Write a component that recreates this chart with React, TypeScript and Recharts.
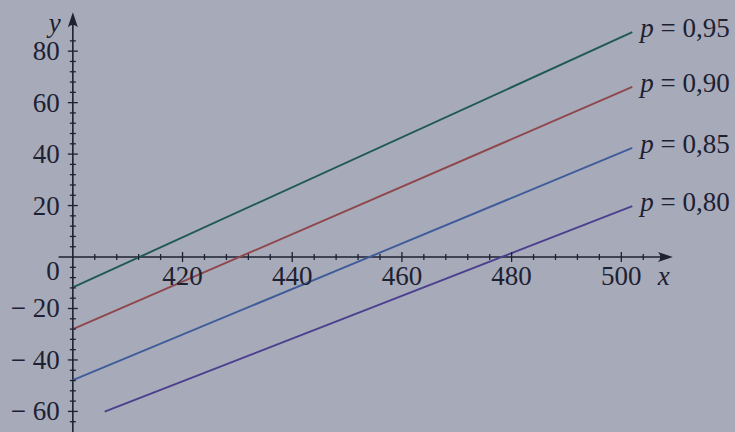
import { LineChart, Line, XAxis, YAxis, ReferenceLine, ReferenceDot } from "recharts";

const seriesNames = ["p = 0,95", "p = 0,90", "p = 0,85", "p = 0,80"];
const seriesColors = ["#1f5954", "#8f474c", "#3f5c9a", "#4c3f8f"];
const startX = [400, 400, 400, 405.8];
const startY = [-11.8, -28, -47.8, -60.1];
const endX = [502, 502, 502, 502];
const endY = [87.4, 66.1, 42.4, 19.8];

const xMajorTicks = [420, 440, 460, 480, 500];
const xMinorTicks = [404, 408, 412, 416, 424, 428, 432, 436, 444, 448, 452, 456, 464, 468, 472, 476, 484, 488, 492, 496, 504];
const yMajorTicks = [-60, -40, -20, 20, 40, 60, 80];
const yMinorTicks = [-64, -56, -52, -48, -44, -36, -32, -28, -24, -16, -12, -8, -4, 4, 8, 12, 16, 24, 28, 32, 36, 44, 48, 52, 56, 64, 68, 72, 76, 84];

const ink = "#1d2131";
const font = "'Liberation Serif', 'Times New Roman', serif";
const fs = 27;

const fmtY = (v: number) => (v < 0 ? `\u2212 ${Math.abs(v)}` : `${v}`);

function XTick(props: any) {
  const { cx, cy, major, value } = props;
  const h = major ? 5 : 3;
  return (
    <g>
      <line x1={cx} y1={cy - h} x2={cx} y2={cy + h} stroke={ink} strokeWidth={1.3} />
      {major && (
        <text x={cx} y={cy + 28} textAnchor="middle" fontFamily={font} fontSize={fs} fill={ink}>
          {value}
        </text>
      )}
    </g>
  );
}

function YTick(props: any) {
  const { cx, cy, major, value } = props;
  const w = major ? 5 : 3;
  return (
    <g>
      <line x1={cx - w} y1={cy} x2={cx + w} y2={cy} stroke={ink} strokeWidth={1.3} />
      {major && (
        <text x={cx - 13} y={cy + 9} textAnchor="end" fontFamily={font} fontSize={fs} fill={ink}>
          {fmtY(value)}
        </text>
      )}
    </g>
  );
}

function XAxisArrow(props: any) {
  const { x1, y1, x2, y2 } = props;
  return (
    <g>
      <line x1={x1} y1={y1} x2={x2 - 8} y2={y2} stroke={ink} strokeWidth={1.6} />
      <path d={`M${x2},${y2} L${x2 - 15},${y2 - 5} Q${x2 - 10},${y2} ${x2 - 15},${y2 + 5} Z`} fill={ink} />
      <text x={x2 - 9} y={y2 + 28} textAnchor="middle" fontFamily={font} fontStyle="italic" fontSize={fs} fill={ink}>
        x
      </text>
    </g>
  );
}

function YAxisArrow(props: any) {
  const { x1, y1, y2 } = props;
  const top = Math.min(y1, y2);
  const bottom = Math.max(y1, y2);
  const x = x1;
  return (
    <g>
      <line x1={x} y1={bottom} x2={x} y2={top + 8} stroke={ink} strokeWidth={1.6} />
      <path d={`M${x},${top} L${x - 5},${top + 15} Q${x},${top + 10} ${x + 5},${top + 15} Z`} fill={ink} />
      <text x={x - 18} y={top + 20} textAnchor="middle" fontFamily={font} fontStyle="italic" fontSize={fs} fill={ink}>
        y
      </text>
    </g>
  );
}

export default function App() {
  const series = seriesNames.map((name, i) => ({
    name,
    color: seriesColors[i],
    data: [
      { x: startX[i], y: startY[i] },
      { x: endX[i], y: endY[i] },
    ],
  }));

  return (
    <div style={{ position: "absolute", left: 0, top: 0, width: 735, height: 432, background: "#a7aab9" }}>
      <LineChart width={735} height={432} margin={{ top: 10, right: 4, bottom: 0, left: 18 }}>
        <XAxis type="number" dataKey="x" domain={[390, 520]} hide allowDataOverflow />
        <YAxis type="number" domain={[-68, 96]} hide allowDataOverflow />

        <ReferenceLine
          segment={[{ x: 397.4, y: 0 }, { x: 509.4, y: 0 }]}
          ifOverflow="visible"
          shape={<XAxisArrow />}
        />
        <ReferenceLine
          segment={[{ x: 400, y: -70 }, { x: 400, y: 95.1 }]}
          ifOverflow="visible"
          shape={<YAxisArrow />}
        />

        {xMinorTicks.map((v) => (
          <ReferenceDot key={`xm${v}`} x={v} y={0} ifOverflow="visible" shape={(p: any) => <XTick {...p} value={v} major={false} />} />
        ))}
        {xMajorTicks.map((v) => (
          <ReferenceDot key={`xM${v}`} x={v} y={0} ifOverflow="visible" shape={(p: any) => <XTick {...p} value={v} major />} />
        ))}
        {yMinorTicks.map((v) => (
          <ReferenceDot key={`ym${v}`} x={400} y={v} ifOverflow="visible" shape={(p: any) => <YTick {...p} value={v} major={false} />} />
        ))}
        {yMajorTicks.map((v) => (
          <ReferenceDot key={`yM${v}`} x={400} y={v} ifOverflow="visible" shape={(p: any) => <YTick {...p} value={v} major />} />
        ))}
        <ReferenceDot
          x={400}
          y={0}
          ifOverflow="visible"
          shape={(p: any) => (
            <text x={p.cx - 13} y={p.cy + 23} textAnchor="end" fontFamily={font} fontSize={fs} fill={ink}>
              0
            </text>
          )}
        />

        {series.map((s) => (
          <Line
            key={s.name}
            data={s.data}
            dataKey="y"
            type="linear"
            stroke={s.color}
            strokeWidth={1.9}
            dot={false}
            activeDot={false}
            isAnimationActive={false}
            label={(p: any) =>
              p.index === s.data.length - 1 ? (
                <text key={`${s.name}-lbl`} x={p.x + 8} y={p.y + 5} fontFamily={font} fontSize={fs} fill={ink}>
                  <tspan fontStyle="italic">p</tspan>
                  <tspan> = {s.name.slice(4)}</tspan>
                </text>
              ) : (
                <g key={`${s.name}-l${p.index}`} />
              )
            }
          />
        ))}
      </LineChart>
    </div>
  );
}
